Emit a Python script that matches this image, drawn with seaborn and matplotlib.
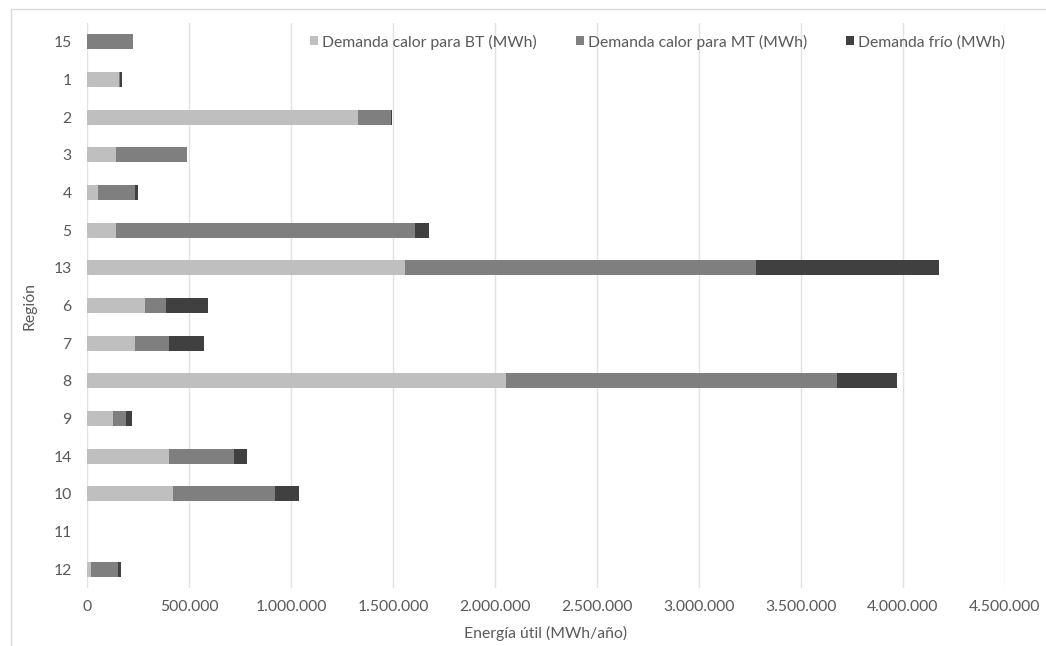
import numpy as np
import pandas as pd
import matplotlib
matplotlib.use("Agg")
import matplotlib.pyplot as plt
from matplotlib.lines import Line2D
from matplotlib.patches import Patch
from matplotlib.ticker import FuncFormatter, MultipleLocator
import seaborn as sns

# Useful energy demand per region (MWh/year)
regions = ["15", "1", "2", "3", "4", "5", "13", "6", "7", "8", "9", "14", "10", "11", "12"]
calor_bt = [0, 158000, 1327000, 142000, 54000, 141000, 1557000, 286000, 234000, 2053000, 126000, 402000, 420000, 0, 20000]
calor_mt = [224000, 2000, 161000, 350000, 183000, 1469000, 1724000, 103000, 170000, 1623000, 64000, 319000, 500000, 0, 134000]
frio = [0, 10000, 6000, 0, 13000, 66000, 895000, 206000, 170000, 296000, 29000, 63000, 119000, 0, 11000]

series_names = ["Demanda calor para BT (MWh)", "Demanda calor para MT (MWh)", "Demanda frío (MWh)"]
series_colors = ["#bfbfbf", "#7f7f7f", "#404040"]

df = pd.DataFrame({"Región": regions, "bt": calor_bt, "mt": calor_mt, "frio": frio})
df["c1"] = df["bt"]
df["c2"] = df["c1"] + df["mt"]
df["c3"] = df["c2"] + df["frio"]

sns.set_theme(style="white")
plt.rcParams["font.family"] = ["Lato", "DejaVu Sans"]
text_color = "#595959"
fs = 11.3

fig = plt.figure(figsize=(10.46, 6.46), dpi=100)
ax = fig.add_axes([0.0832, 0.0898, 0.8776, 0.8745])

# Stacked bars: draw cumulative totals from the outermost layer inwards
for col, color in zip(["c3", "c2", "c1"], series_colors[::-1]):
    sns.barplot(data=df, x=col, y="Región", order=regions, orient="h",
                color=color, width=0.4, saturation=1, ax=ax,
                edgecolor="none", linewidth=0)

ax.set_xlim(0, 4500000)
ax.xaxis.set_major_locator(MultipleLocator(500000))
ax.xaxis.set_major_formatter(FuncFormatter(lambda v, p: f"{int(v):,}".replace(",", ".")))
ax.grid(axis="x", color="#e2e2e2", linewidth=1.0)
ax.set_axisbelow(True)
for s in ax.spines.values():
    s.set_visible(False)
ax.tick_params(axis="both", length=0, labelsize=fs, colors=text_color)
ax.tick_params(axis="x", pad=9)
ax.tick_params(axis="y", pad=11)
ax.set_xlabel("Energía útil (MWh/año)", fontsize=fs, color=text_color, labelpad=8)
ax.set_ylabel("Región", fontsize=fs, color=text_color, labelpad=12)

handles = [Patch(facecolor=c, edgecolor="none") for c in series_colors]
leg = ax.legend(handles, series_names, loc="center right", ncol=3, frameon=False,
                fontsize=fs, handlelength=0.5, handleheight=0.5, handletextpad=0.25,
                columnspacing=2.5, borderpad=0, borderaxespad=0,
                bbox_to_anchor=(1.0, 0.9665), labelcolor=text_color)

# Light chart-area frame
fig.add_artist(Line2D([0.0105, 0.0105], [0, 0.986], transform=fig.transFigure, color="#d9d9d9", lw=1))
fig.add_artist(Line2D([0.0105, 1.0], [0.986, 0.986], transform=fig.transFigure, color="#d9d9d9", lw=1))

fig.savefig("out.png", dpi=100, facecolor="white")
